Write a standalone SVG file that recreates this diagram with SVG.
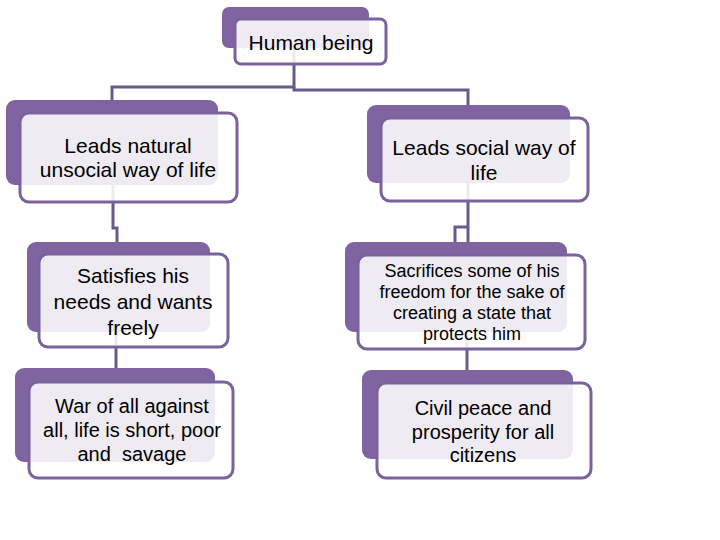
<svg xmlns="http://www.w3.org/2000/svg" width="720" height="540" viewBox="0 0 720 540">
<style>
.back{fill:#8064A2;}
.front{fill:#FFFFFF;fill-opacity:0.875;stroke:#7A629C;stroke-width:3;}
.conn{fill:none;stroke:#6A5A8C;stroke-width:3;}
text{font-family:"Liberation Sans",Arial,sans-serif;fill:#000;text-anchor:middle;}
.t21{font-size:21px;}
.t20{font-size:20px;}
.t18{font-size:18px;}
</style>
<rect width="720" height="540" fill="#FFFFFF"/>
<g id="connectors">
<path class="conn" d="M294,40 V87 H112 V102"/>
<path class="conn" d="M294,87 V90 H468 V108"/>
<path class="conn" d="M113,180 V228 H117 V246"/>
<path class="conn" d="M468,180 V246"/>
<path class="conn" d="M468,227 H455 V246"/>
<path class="conn" d="M116,325 V370"/>
<path class="conn" d="M467,325 V372"/>
</g>
<g id="node-human">
<rect class="back" x="222" y="7" width="147" height="41" rx="7"/>
<rect class="front" x="235" y="19" width="151" height="45" rx="6"/>
<text class="t21" x="311" y="50">Human being</text>
</g>
<g id="node-natural">
<rect class="back" x="6" y="100" width="212" height="85" rx="9"/>
<rect class="front" x="20" y="113" width="217" height="89" rx="9"/>
<text class="t21" x="128" y="153">Leads natural</text>
<text class="t21" x="128" y="177">unsocial way of life</text>
</g>
<g id="node-social">
<rect class="back" x="367" y="105" width="203" height="78" rx="9"/>
<rect class="front" x="381" y="118" width="207" height="83" rx="9"/>
<text class="t21" x="484" y="155">Leads social way of</text>
<text class="t21" x="484" y="180">life</text>
</g>
<g id="node-satisfies">
<rect class="back" x="27" y="242" width="183" height="90" rx="9"/>
<rect class="front" x="39" y="254" width="189" height="93" rx="9"/>
<text class="t21" x="133" y="283">Satisfies his</text>
<text class="t21" x="133" y="309">needs and wants</text>
<text class="t21" x="133" y="335">freely</text>
</g>
<g id="node-sacrifices">
<rect class="back" x="345" y="242" width="222" height="90" rx="9"/>
<rect class="front" x="358" y="255" width="227" height="94" rx="9"/>
<text class="t18" x="472" y="277">Sacrifices some of his</text>
<text class="t18" x="472" y="298">freedom for the sake of</text>
<text class="t18" x="472" y="319">creating a state that</text>
<text class="t18" x="472" y="340">protects him</text>
</g>
<g id="node-war">
<rect class="back" x="15" y="368" width="200" height="94" rx="9"/>
<rect class="front" x="29" y="382" width="204" height="96" rx="9"/>
<text class="t20" x="132" y="413">War of all against</text>
<text class="t20" x="132" y="437">all, life is short, poor</text>
<text class="t20" x="132" y="461" xml:space="preserve">and  savage</text>
</g>
<g id="node-peace">
<rect class="back" x="362" y="370" width="211" height="89" rx="9"/>
<rect class="front" x="377" y="383" width="214" height="95" rx="9"/>
<text class="t20" x="483" y="415">Civil peace and</text>
<text class="t20" x="483" y="439">prosperity for all</text>
<text class="t20" x="483" y="462">citizens</text>
</g>
</svg>
